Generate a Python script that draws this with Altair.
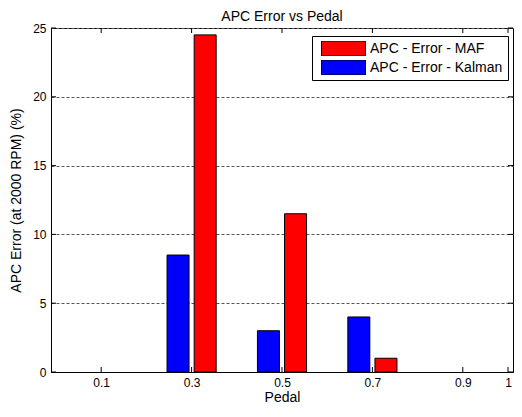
import altair as alt
import pandas as pd

pedal = [0.3, 0.5, 0.7]
maf = [24.5, 11.5, 1.0]
kalman = [8.5, 3.0, 4.0]
series_names = ["APC - Error - MAF", "APC - Error - Kalman"]
series_colors = ["#ff0000", "#0000ff"]
series_offsets = [0.03, -0.03]
x_ticks = [0.1, 0.3, 0.5, 0.7, 0.9, 1.0]
y_ticks = [0, 5, 10, 15, 20, 25]

rows = []
for name, vals, off in zip(series_names, [maf, kalman], series_offsets):
    for p, v in zip(pedal, vals):
        rows.append({"pedal": p, "pos": p + off, "value": v, "series": name})
df = pd.DataFrame(rows)

W, H = 462, 344
FONT = "Liberation Sans"

xscale = alt.Scale(domain=[0, 1], nice=False, zero=False)
yscale = alt.Scale(domain=[0, 25], nice=False)

bars = alt.Chart(df).mark_bar(size=22, stroke="black", strokeWidth=1).encode(
    x=alt.X("pos:Q", scale=xscale, title="Pedal",
            axis=alt.Axis(values=x_ticks, format="~g", grid=False, tickSize=0,
                          labelPadding=5, titlePadding=2, domainColor="black",
                          titleFontSize=14)),
    y=alt.Y("value:Q", scale=yscale, title="APC Error (at 2000 RPM) (%)",
            axis=alt.Axis(values=y_ticks, grid=True, gridDash=[3, 2], gridColor="#555555",
                          gridOpacity=1, tickSize=0, labelPadding=5, titlePadding=9,
                          domainColor="black", titleFontSize=14)),
    color=alt.Color("series:N", scale=alt.Scale(domain=series_names, range=series_colors),
                    title=None,
                    legend=alt.Legend(orient="none", legendX=261, legendY=8,
                                      symbolType="M-1,-0.34H1V0.34H-1Z", symbolSize=1936,
                                      symbolStrokeColor="black", symbolStrokeWidth=1,
                                      symbolOpacity=1, symbolOffset=4, clipHeight=15,
                                      strokeColor="black", fillColor="white", padding=5,
                                      labelFontSize=14, labelFont=FONT, labelColor="black",
                                      labelOffset=4, rowPadding=4, labelLimit=300,
                                      labelExpr="datum.label + ' '")),
)

xt = pd.DataFrame({"t": x_ticks})
yt = pd.DataFrame({"t": y_ticks})
tick_x_bottom = alt.Chart(xt).mark_rule(color="black").encode(
    x=alt.X("t:Q", scale=xscale), y=alt.value(H), y2=alt.value(H - 5))
tick_x_top = alt.Chart(xt).mark_rule(color="black").encode(
    x=alt.X("t:Q", scale=xscale), y=alt.value(0), y2=alt.value(5))
tick_y_left = alt.Chart(yt).mark_rule(color="black").encode(
    y=alt.Y("t:Q", scale=yscale), x=alt.value(0), x2=alt.value(5))
tick_y_right = alt.Chart(yt).mark_rule(color="black").encode(
    y=alt.Y("t:Q", scale=yscale), x=alt.value(W), x2=alt.value(W - 5))

chart = alt.layer(bars, tick_x_bottom, tick_x_top, tick_y_left, tick_y_right).properties(
    width=W, height=H,
    title=alt.TitleParams("APC Error vs Pedal", fontSize=14, font=FONT, fontWeight="normal",
                          color="black", anchor="middle", frame="group", offset=-2),
    autosize=alt.AutoSizeParams(type="none"),
    padding={"left": 43, "top": 20, "right": 1, "bottom": 37},
).configure_axis(
    labelFont=FONT, titleFont=FONT, labelFontSize=12,
    labelColor="black", titleColor="black", titleFontWeight="normal",
).configure_view(stroke="black", strokeWidth=1)

chart.save("out.html", embed_options={"renderer": "svg", "actions": False})
